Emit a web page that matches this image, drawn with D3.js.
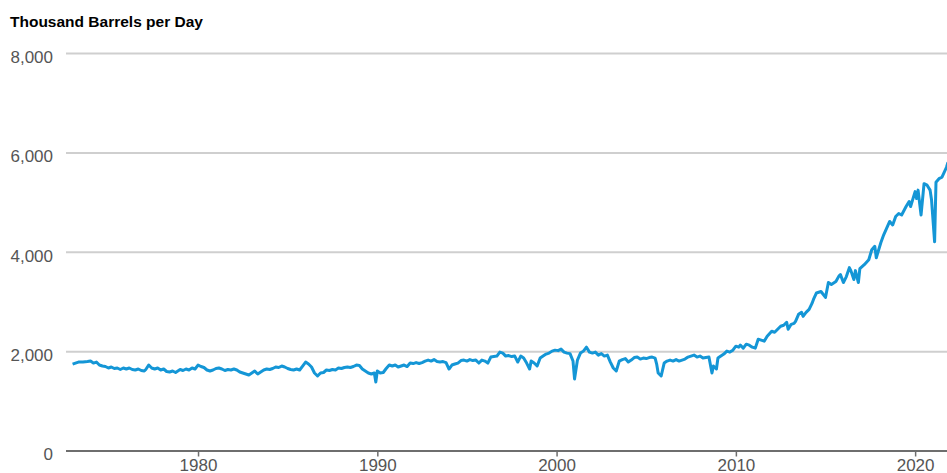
<!DOCTYPE html>
<html>
<head>
<meta charset="utf-8">
<script src="https://cdn.jsdelivr.net/npm/d3@7"></script>
<style>
  body { margin: 0; background: #fff; }
  svg { display: block; font-family: "Liberation Sans", Arial, sans-serif; }
</style>
</head>
<body>
<div id="chart"></div>
<script>
// Data (month / thousand barrels per day)
const months = [
  "1973-01","1973-03","1973-05","1973-08","1973-11","1974-01","1974-03","1974-05","1974-07","1974-09","1974-11",
  "1975-01","1975-03","1975-05","1975-07","1975-09","1975-11","1976-01","1976-03","1976-05","1976-07","1976-09","1976-11",
  "1977-01","1977-02","1977-04","1977-06","1977-08","1977-10","1977-12","1978-02","1978-04","1978-06","1978-08","1978-10",
  "1979-01","1979-03","1979-05","1979-07","1979-09","1979-11","1980-01","1980-03","1980-05","1980-07","1980-09","1980-11",
  "1981-01","1981-03","1981-05","1981-07","1981-09","1981-11","1982-01","1982-03","1982-05","1982-08","1982-11",
  "1983-01","1983-03","1983-05","1983-07","1983-09","1983-11","1984-01","1984-03","1984-05","1984-07","1984-09","1984-11",
  "1985-01","1985-03","1985-05","1985-07","1985-09","1985-11","1986-01","1986-03","1986-05","1986-07","1986-09","1986-11",
  "1987-01","1987-03","1987-05","1987-07","1987-09","1987-11","1988-01","1988-03","1988-05","1988-07","1988-09","1988-11",
  "1989-01","1989-03","1989-05","1989-07","1989-09","1989-11","1989-12","1990-01","1990-03","1990-05","1990-07","1990-09","1990-11",
  "1991-01","1991-03","1991-05","1991-07","1991-09","1991-11","1992-01","1992-03","1992-05","1992-07","1992-09","1992-11",
  "1993-01","1993-03","1993-05","1993-07","1993-09","1993-11","1994-01","1994-03","1994-05","1994-07","1994-09","1994-11",
  "1995-01","1995-03","1995-05","1995-07","1995-09","1995-11","1996-01","1996-03","1996-05","1996-07","1996-09","1996-11",
  "1997-01","1997-03","1997-05","1997-07","1997-09","1997-11","1998-01","1998-03","1998-05","1998-07","1998-08","1998-10","1998-12",
  "1999-02","1999-04","1999-06","1999-08","1999-10","1999-12","2000-02","2000-04","2000-06","2000-08","2000-10","2000-12",
  "2001-01","2001-03","2001-05","2001-07","2001-09","2001-11","2002-01","2002-03","2002-05","2002-07","2002-09","2002-11",
  "2003-01","2003-03","2003-05","2003-07","2003-09","2003-11","2004-01","2004-03","2004-05","2004-07","2004-09","2004-11",
  "2005-01","2005-03","2005-05","2005-07","2005-08","2005-09","2005-11","2006-01","2006-03","2006-05","2006-07","2006-09","2006-11",
  "2007-01","2007-03","2007-05","2007-07","2007-09","2007-11","2008-01","2008-03","2008-05","2008-07","2008-09","2008-10","2008-12",
  "2009-01","2009-03","2009-05","2009-07","2009-09","2009-11","2010-01","2010-03","2010-04","2010-06","2010-08","2010-10","2010-12",
  "2011-02","2011-04","2011-06","2011-08","2011-10","2012-01","2012-03","2012-05","2012-07","2012-09","2012-11","2012-12",
  "2013-02","2013-04","2013-05","2013-07","2013-09","2013-10","2013-12","2014-02","2014-04","2014-05","2014-07","2014-10",
  "2015-01","2015-03","2015-05","2015-08","2015-10","2015-11","2016-01","2016-03","2016-05","2016-06","2016-08","2016-09","2016-11","2016-12",
  "2017-03","2017-06","2017-08","2017-10","2017-11","2018-02","2018-04","2018-08","2018-10","2018-12",
  "2019-02","2019-04","2019-07","2019-09","2019-10","2020-01","2020-02","2020-03","2020-05","2020-07","2020-09","2020-11","2020-12",
  "2021-02","2021-03","2021-05","2021-07","2021-10","2021-11"
];
const values = [
  1740,1760,1780,1780,1790,1800,1760,1780,1720,1700,1690,
  1660,1680,1650,1660,1630,1660,1640,1660,1630,1620,1640,1610,
  1600,1630,1720,1660,1640,1660,1620,1640,1590,1580,1600,1570,
  1630,1610,1640,1620,1660,1640,1720,1690,1670,1620,1600,1620,
  1650,1660,1640,1610,1630,1620,1640,1620,1580,1550,1520,
  1560,1600,1540,1580,1620,1640,1630,1650,1680,1670,1700,1680,
  1650,1630,1620,1640,1620,1700,1780,1740,1680,1560,1500,1560,
  1570,1620,1610,1630,1620,1660,1650,1670,1680,1670,1690,1720,
  1710,1640,1600,1560,1540,1560,1380,1600,1560,1570,1650,1720,1700,
  1720,1680,1700,1720,1690,1760,1750,1770,1750,1770,1800,1820,
  1800,1830,1790,1780,1790,1770,1640,1720,1740,1760,1810,1820,
  1800,1830,1810,1820,1760,1820,1800,1760,1880,1890,1900,1980,
  1960,1900,1910,1890,1900,1780,1900,1860,1760,1640,1800,1760,1700,
  1860,1900,1940,1960,2000,2020,2010,2040,1980,1960,1950,1800,
  1440,1820,1960,2000,2080,1980,1960,1980,1920,1950,1900,1920,
  1780,1660,1600,1800,1830,1850,1780,1820,1870,1880,1840,1860,
  1850,1870,1880,1860,1740,1560,1500,1760,1800,1820,1800,1830,1800,
  1820,1840,1880,1900,1920,1880,1900,1860,1870,1880,1560,1700,1640,
  1860,1900,1940,2000,1980,2020,2100,2080,2120,2060,2140,2120,2080,
  2060,2240,2220,2200,2300,2400,2380,2440,2500,2520,2580,2440,
  2540,2560,2600,2740,2780,2700,2780,2840,2960,3040,3170,3200,
  3080,3380,3340,3400,3510,3540,3380,3500,3680,3620,3440,3620,3380,3660,
  3740,3840,4040,4110,3880,4180,4340,4610,4540,4710,
  4770,4740,4910,5010,4910,5210,5070,5240,4740,5370,5340,5240,5040,
  4200,5400,5470,5500,5700,5800
];
const yTicks = [0, 2000, 4000, 6000, 8000];
const xTicks = ["1980", "1990", "2000", "2010", "2020"];
const yTitle = "Thousand Barrels per Day";

const width = 947, height = 473;
const parseMonth = d3.timeParse("%Y-%m");
const data = months.map((m, i) => ({ date: parseMonth(m), value: values[i] }));

const svg = d3.select("#chart")
  .append("svg")
  .attr("width", width)
  .attr("height", height);

const x = d3.scaleTime()
  .domain([new Date(1972, 7, 20), new Date(2022, 0, 1)])
  .range([66, 951]);

const y = d3.scaleLinear()
  .domain([0, 8000])
  .range([450.5, 53]);

// y title
svg.append("text")
  .attr("x", 10)
  .attr("y", 27)
  .attr("font-size", 15.5)
  .attr("font-weight", "bold")
  .attr("fill", "#000")
  .text(yTitle);

// gridlines + labels
const yAxis = d3.axisLeft(y)
  .tickValues(yTicks)
  .tickSize(-(width - 66))
  .tickFormat(d3.format(","));

svg.append("g")
  .attr("transform", "translate(66,0)")
  .call(yAxis)
  .call(g => g.select(".domain").remove())
  .call(g => g.selectAll(".tick line")
    .attr("stroke", d => d === 0 ? "#6e6e6e" : "#cfcfcf")
    .attr("stroke-width", 2))
  .call(g => g.selectAll(".tick text")
    .attr("x", -13)
    .attr("dy", "0.55em")
    .attr("font-size", 17)
    .attr("font-family", "Liberation Sans, Arial, sans-serif")
    .attr("fill", "#555"));

// x axis ticks
const xAxis = d3.axisBottom(x)
  .tickValues(xTicks.map(t => new Date(+t, 0, 1)))
  .tickSize(6)
  .tickPadding(2)
  .tickFormat(d3.timeFormat("%Y"));

svg.append("g")
  .attr("transform", "translate(0," + y(0) + ")")
  .call(xAxis)
  .call(g => g.select(".domain").remove())
  .call(g => g.selectAll(".tick line").attr("stroke", "#6e6e6e").attr("stroke-width", 1.5))
  .call(g => g.selectAll(".tick text")
    .attr("font-size", 17)
    .attr("font-family", "Liberation Sans, Arial, sans-serif")
    .attr("fill", "#555"));

// series line
const line = d3.line()
  .x(d => x(d.date))
  .y(d => y(d.value));

svg.append("path")
  .datum(data)
  .attr("fill", "none")
  .attr("stroke", "#1496d6")
  .attr("stroke-width", 3)
  .attr("stroke-linejoin", "round")
  .attr("d", line);
</script>
</body>
</html>
